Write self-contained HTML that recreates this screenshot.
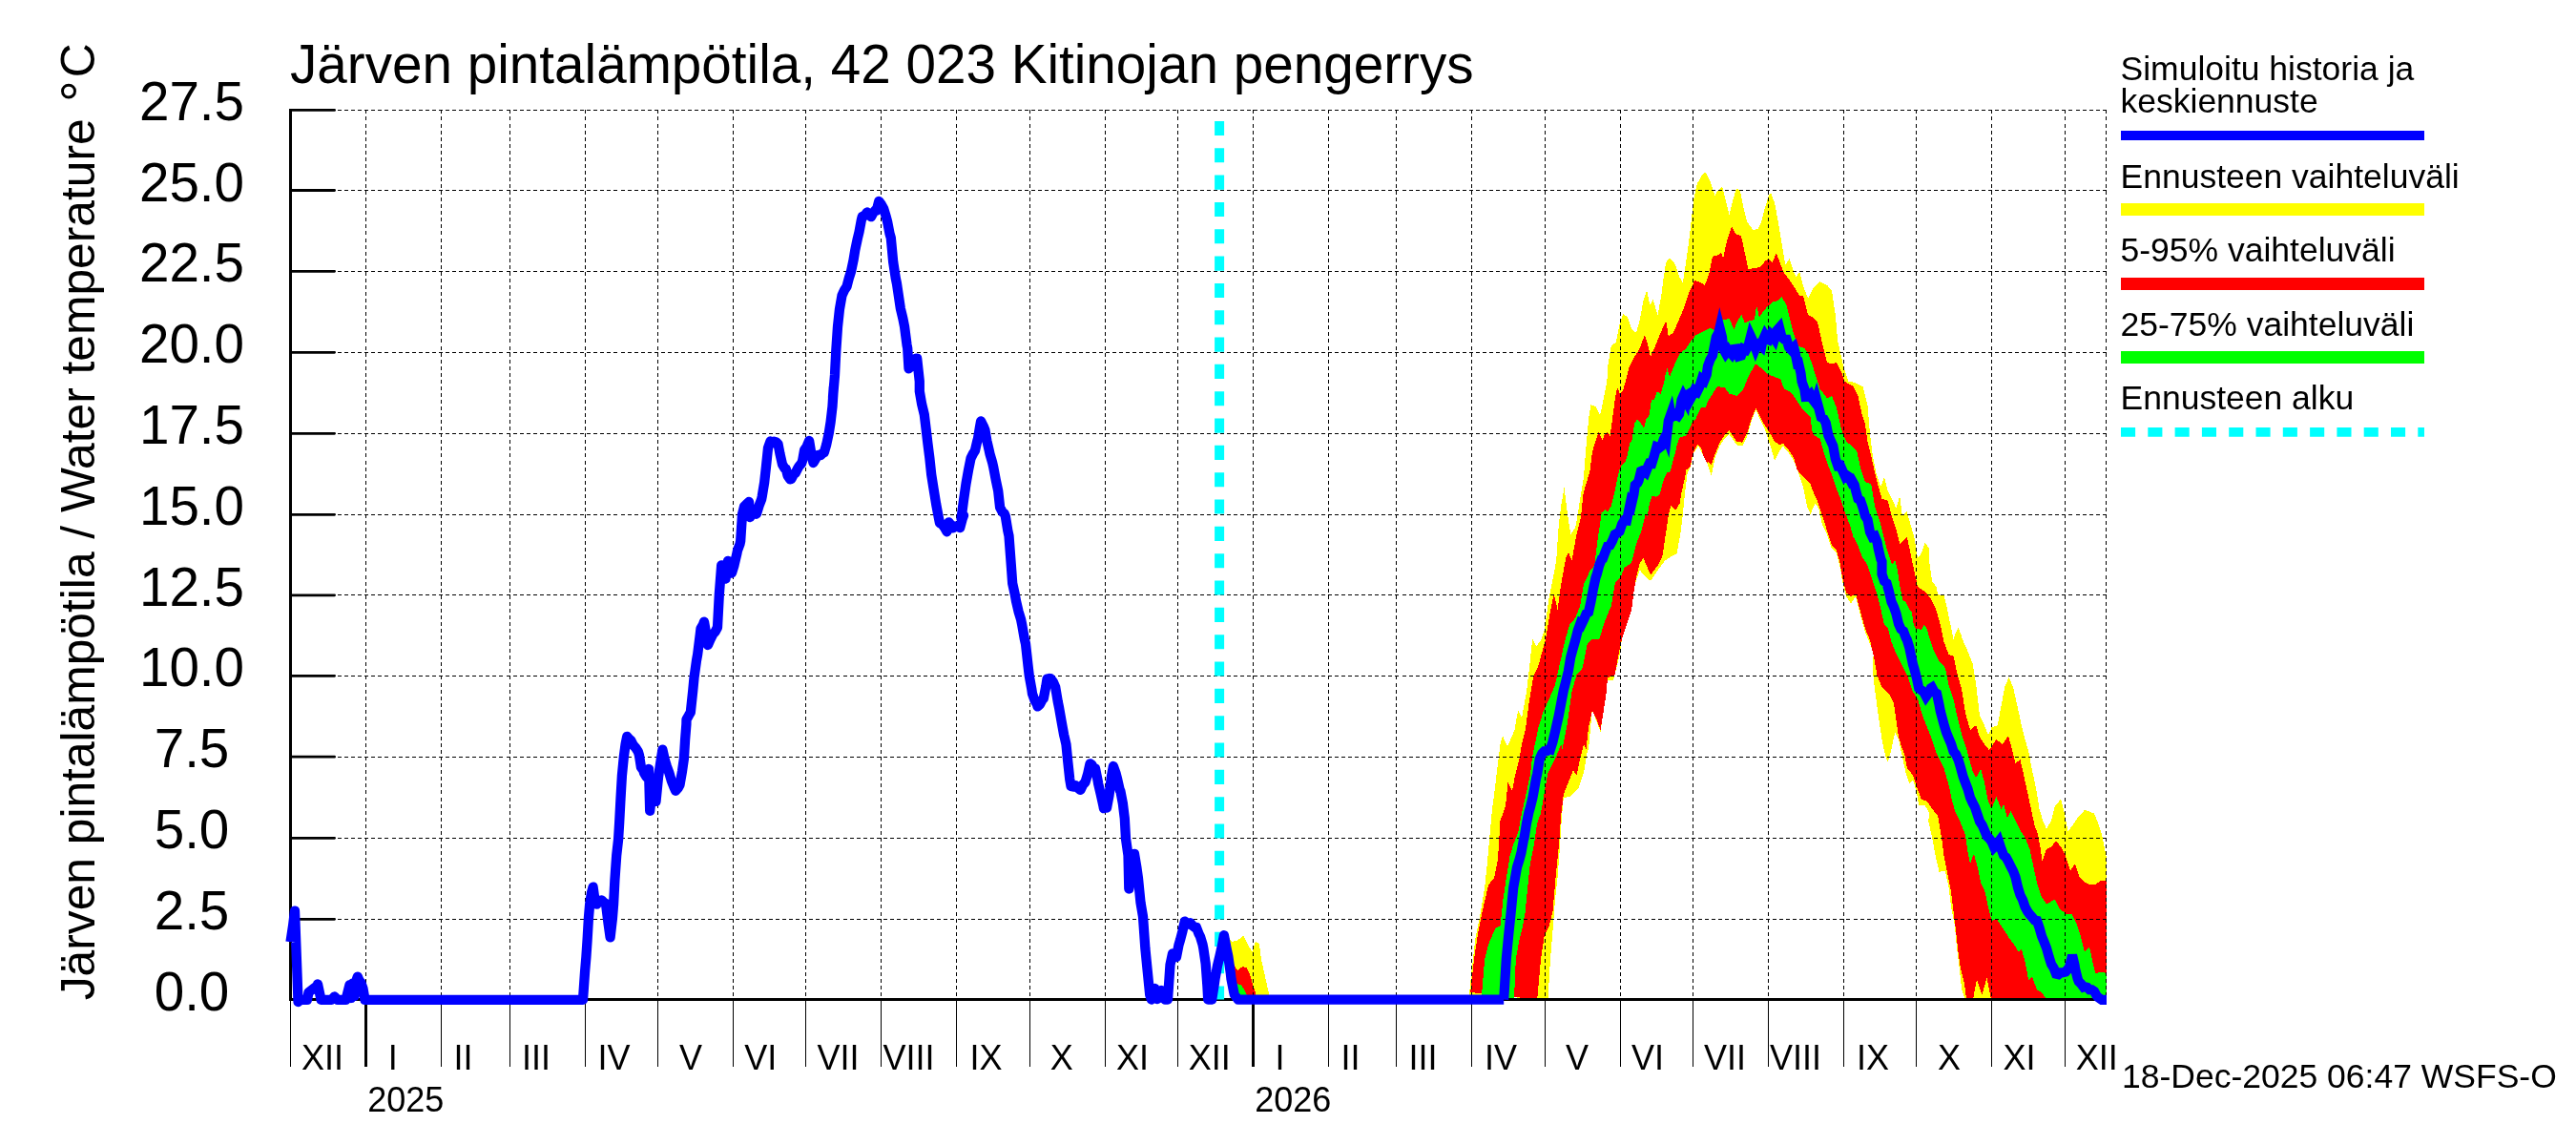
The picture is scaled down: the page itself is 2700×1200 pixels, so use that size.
<!DOCTYPE html>
<html><head><meta charset="utf-8"><title>Järven pintalämpötila</title>
<style>
html,body{margin:0;padding:0;background:#fff;}
body{width:2700px;height:1200px;overflow:hidden;}
svg{display:block;will-change:transform;}
text{font-family:"Liberation Sans",sans-serif;fill:#000;}
.s{font-size:35.5px;}
.m{font-size:36px;}
.b{font-size:56.6px;}
</style></head><body>
<svg width="2700" height="1200" viewBox="0 0 2700 1200">
<rect width="2700" height="1200" fill="#fff"/>
<g shape-rendering="crispEdges">
<path fill="#ffff00" d="M1284.0,985.0 L1285.7,980.0 L1291.4,987.0 L1297.0,985.6 L1303.5,980.7 L1310.0,993.7 L1312.5,997.0 L1315.7,987.0 L1319.8,988.9 L1322.2,1006.7 L1326.3,1024.6 L1330.3,1042.5 L1331.5,1047.6 L1298.0,1047.6Z"/>
<path fill="#ff0000" d="M1290.0,1010.0 L1293.0,1010.0 L1297.0,1017.3 L1301.9,1013.2 L1306.8,1014.0 L1310.0,1021.3 L1312.5,1029.5 L1316.5,1042.5 L1318.0,1047.6 L1298.0,1047.6Z"/>
<path fill="#00ff00" d="M1294.5,1031.0 L1297.0,1031.0 L1301.0,1032.7 L1304.3,1037.6 L1306.8,1042.5 L1308.0,1047.6 L1299.0,1047.6Z"/>
<path fill="#ffff00" d="M1540.0,1042.5 L1542.5,1017.5 L1546.2,985.0 L1551.2,960.0 L1556.2,930.0 L1558.8,905.0 L1561.2,878.2 L1563.8,850.0 L1567.0,825.0 L1570.0,800.0 L1572.5,780.0 L1575.0,771.2 L1580.0,782.5 L1587.5,765.0 L1591.2,743.8 L1595.0,752.5 L1600.0,725.0 L1603.8,692.5 L1606.2,668.8 L1610.0,677.5 L1615.0,671.2 L1618.8,660.0 L1623.8,625.0 L1627.5,607.5 L1631.2,587.5 L1633.8,550.0 L1636.2,530.0 L1639.5,511.2 L1642.5,535.0 L1646.2,560.0 L1651.2,552.5 L1653.1,542.5 L1656.9,518.8 L1660.0,500.0 L1661.9,475.0 L1663.8,453.8 L1665.6,435.0 L1667.5,424.4 L1672.5,426.2 L1676.9,435.0 L1679.4,425.0 L1681.9,412.5 L1684.4,400.0 L1685.0,385.0 L1688.8,362.5 L1693.8,358.8 L1697.5,340.0 L1701.2,328.8 L1706.2,332.5 L1710.0,345.0 L1715.0,348.8 L1718.8,335.0 L1722.5,315.0 L1726.2,303.8 L1729.2,320.0 L1732.5,313.8 L1737.5,330.0 L1741.2,310.0 L1743.8,290.0 L1746.2,275.0 L1750.0,270.0 L1756.2,277.5 L1760.0,290.0 L1763.8,296.2 L1767.5,272.5 L1771.2,245.0 L1775.0,210.0 L1778.8,192.5 L1783.8,183.8 L1787.5,180.5 L1792.5,190.0 L1797.5,205.0 L1800.0,200.0 L1805.0,195.0 L1808.8,210.0 L1812.5,225.0 L1816.2,210.0 L1820.0,197.5 L1823.8,200.0 L1827.5,217.5 L1831.2,232.5 L1837.5,241.2 L1842.5,240.0 L1846.2,232.5 L1850.0,217.5 L1853.8,205.0 L1856.2,202.5 L1860.0,212.5 L1863.8,232.5 L1867.5,255.0 L1871.2,277.5 L1875.5,271.2 L1880.0,285.0 L1882.5,290.0 L1886.2,285.0 L1890.0,300.0 L1895.0,312.5 L1901.2,301.2 L1907.5,295.0 L1915.0,298.8 L1920.0,305.0 L1923.8,330.0 L1926.2,357.5 L1932.5,385.0 L1937.5,400.0 L1941.2,400.0 L1952.5,405.0 L1957.5,425.0 L1960.0,455.0 L1962.5,475.0 L1966.2,495.0 L1971.2,510.0 L1975.0,500.0 L1978.8,515.0 L1983.8,525.0 L1987.5,532.5 L1991.2,520.0 L1993.8,540.0 L1998.8,536.2 L2002.5,550.0 L2006.2,562.5 L2010.0,585.0 L2013.8,580.0 L2017.5,568.8 L2022.2,575.0 L2021.9,586.2 L2023.8,600.0 L2025.0,608.8 L2029.4,615.0 L2031.2,622.5 L2034.4,624.4 L2037.5,623.8 L2040.0,633.8 L2041.9,642.5 L2043.8,652.5 L2045.6,660.0 L2047.5,670.0 L2050.0,662.5 L2052.5,658.1 L2055.0,663.8 L2056.9,670.0 L2062.5,682.5 L2067.5,695.0 L2071.2,717.5 L2075.0,750.0 L2078.8,757.5 L2083.8,770.0 L2087.5,762.5 L2093.8,760.0 L2097.5,740.0 L2101.2,720.0 L2105.5,710.0 L2110.0,720.0 L2115.0,742.5 L2118.8,760.0 L2122.5,775.0 L2126.2,787.5 L2130.0,807.5 L2133.8,825.0 L2137.5,847.5 L2141.2,860.0 L2145.0,868.8 L2150.0,860.0 L2153.8,845.0 L2160.0,837.5 L2163.8,852.5 L2167.5,871.2 L2172.5,865.0 L2177.5,857.5 L2185.0,848.8 L2195.0,852.5 L2200.0,865.0 L2202.5,872.5 L2206.2,890.0 L2208.0,900.0 L2208.2,1047.6 L2060.0,1047.5 L2056.2,1037.5 L2053.8,1015.0 L2051.2,995.0 L2048.8,970.0 L2045.0,950.0 L2042.5,930.0 L2038.8,912.5 L2032.5,913.8 L2028.8,897.5 L2025.0,877.5 L2021.2,860.0 L2022.5,852.5 L2017.5,843.8 L2011.2,843.8 L2008.8,830.0 L2005.0,817.5 L2001.2,821.2 L1997.5,810.0 L1993.8,792.5 L1990.0,775.0 L1986.2,767.5 L1982.5,785.0 L1978.8,798.8 L1976.2,792.5 L1972.5,775.0 L1968.8,750.0 L1965.0,722.5 L1962.5,700.0 L1963.8,685.0 L1960.0,675.0 L1955.0,662.5 L1950.0,645.0 L1945.0,625.0 L1940.0,632.5 L1935.0,625.0 L1931.2,610.0 L1928.8,595.0 L1925.0,580.0 L1920.0,575.0 L1915.0,560.0 L1910.0,550.0 L1906.2,532.5 L1902.5,527.5 L1897.5,538.8 L1893.8,530.0 L1890.0,510.0 L1885.0,495.0 L1880.0,482.5 L1875.0,475.0 L1868.8,467.5 L1865.0,472.5 L1860.0,482.5 L1855.0,465.0 L1850.0,450.0 L1845.0,440.0 L1840.5,429.5 L1836.2,440.0 L1831.2,457.5 L1826.2,467.5 L1820.0,466.2 L1812.5,455.0 L1807.5,460.0 L1802.5,467.5 L1797.5,480.0 L1793.8,498.8 L1790.0,487.5 L1785.0,477.5 L1780.0,467.5 L1775.0,475.0 L1772.5,487.5 L1768.8,495.0 L1766.2,515.0 L1763.8,540.0 L1761.2,560.0 L1757.5,580.0 L1752.5,582.5 L1745.0,587.5 L1737.5,597.5 L1730.0,608.8 L1725.0,605.0 L1718.8,597.5 L1715.0,607.5 L1710.0,630.0 L1705.0,652.5 L1700.0,670.0 L1697.5,687.5 L1691.2,712.5 L1685.0,712.5 L1677.5,767.0 L1668.8,743.8 L1665.0,785.0 L1663.8,787.5 L1660.0,810.0 L1655.0,825.0 L1645.0,835.0 L1638.8,836.2 L1637.0,855.0 L1635.0,887.5 L1632.5,920.0 L1630.0,942.5 L1627.5,975.0 L1625.0,1005.0 L1622.5,1047.5Z"/>
<path fill="#ff0000" d="M1541.2,1040.0 L1545.0,1005.0 L1548.8,980.0 L1553.8,955.0 L1560.0,927.5 L1566.2,920.0 L1570.0,900.0 L1572.5,860.0 L1578.0,845.0 L1580.5,820.0 L1585.0,828.8 L1588.0,812.5 L1592.5,795.0 L1595.0,780.0 L1598.8,765.0 L1602.5,737.5 L1607.5,707.5 L1612.5,697.5 L1620.0,670.0 L1625.0,640.0 L1628.8,622.5 L1632.5,638.8 L1636.2,612.5 L1641.2,585.0 L1643.8,578.8 L1647.5,587.5 L1652.5,560.0 L1656.9,542.5 L1659.4,518.8 L1661.9,508.8 L1666.2,495.0 L1668.8,475.0 L1670.6,467.5 L1673.1,460.0 L1675.6,452.5 L1679.4,461.2 L1682.5,453.8 L1685.0,453.1 L1687.5,456.9 L1689.4,443.8 L1691.2,430.0 L1693.1,416.2 L1695.2,406.2 L1698.1,413.1 L1701.2,408.8 L1703.8,400.0 L1707.5,385.0 L1712.5,375.0 L1718.8,365.0 L1723.8,351.2 L1727.5,362.5 L1730.0,373.8 L1735.0,362.5 L1740.0,350.0 L1746.2,336.2 L1748.8,352.5 L1753.8,348.8 L1758.8,337.5 L1765.0,322.5 L1770.0,307.5 L1776.2,293.8 L1782.5,296.2 L1787.0,298.8 L1791.2,287.5 L1795.0,268.8 L1800.0,267.5 L1803.8,265.0 L1806.2,270.0 L1810.0,252.5 L1815.0,237.5 L1818.8,245.0 L1825.0,247.5 L1828.8,265.0 L1832.5,282.5 L1837.5,281.2 L1845.0,280.0 L1850.0,273.8 L1853.8,271.2 L1857.5,275.0 L1862.0,265.0 L1866.2,277.5 L1870.0,286.2 L1875.0,292.5 L1880.0,300.0 L1886.2,310.0 L1890.0,310.0 L1895.0,330.0 L1900.0,332.5 L1905.0,337.5 L1910.0,360.0 L1915.0,380.0 L1920.0,381.2 L1925.0,380.0 L1930.0,390.0 L1935.0,403.8 L1933.8,400.0 L1942.5,405.0 L1947.5,415.0 L1951.2,432.5 L1955.0,445.0 L1957.5,462.5 L1961.2,477.5 L1965.0,495.0 L1968.8,510.0 L1972.5,522.5 L1978.8,525.0 L1982.5,540.0 L1987.5,555.0 L1991.2,570.0 L1998.8,562.5 L2002.5,580.0 L2006.2,597.5 L2010.0,615.0 L2017.5,620.0 L2023.8,627.5 L2028.8,637.5 L2033.8,655.0 L2037.5,672.5 L2042.5,686.2 L2047.5,687.5 L2051.2,705.0 L2056.2,722.5 L2060.0,747.5 L2065.0,765.0 L2071.2,760.0 L2075.0,772.5 L2080.0,780.0 L2085.0,786.2 L2092.5,775.0 L2098.8,780.0 L2105.0,771.2 L2108.8,785.0 L2112.5,800.0 L2117.5,796.2 L2121.2,812.5 L2125.0,830.0 L2128.8,847.5 L2132.5,865.0 L2136.2,875.0 L2138.8,890.0 L2140.5,902.5 L2145.0,890.0 L2150.0,887.5 L2155.0,881.2 L2160.0,887.5 L2165.0,897.5 L2170.0,912.5 L2175.0,905.0 L2180.0,920.0 L2187.5,926.2 L2195.0,927.5 L2202.5,922.5 L2208.0,922.5 L2208.2,1047.6 L2087.0,1047.5 L2082.5,1025.0 L2077.5,1042.5 L2072.0,1026.2 L2068.0,1047.5 L2061.2,1047.5 L2058.8,1030.0 L2055.0,1015.0 L2052.5,997.5 L2050.0,975.0 L2047.5,955.0 L2045.0,935.0 L2041.2,915.0 L2037.5,897.5 L2035.0,877.5 L2031.2,855.0 L2025.0,847.5 L2020.0,840.0 L2013.8,837.5 L2010.0,827.5 L2005.0,812.5 L1998.8,805.0 L1996.2,790.0 L1993.8,785.0 L1990.0,772.5 L1987.5,755.0 L1985.0,737.5 L1980.0,727.5 L1972.5,720.0 L1967.5,707.5 L1963.8,687.5 L1960.0,671.2 L1955.0,658.8 L1950.0,641.2 L1945.0,622.5 L1940.0,625.0 L1935.0,621.2 L1931.2,606.2 L1928.8,591.2 L1925.0,577.0 L1920.0,571.2 L1915.0,556.2 L1910.0,540.0 L1905.0,525.0 L1902.5,520.0 L1897.5,507.5 L1890.0,500.0 L1883.8,492.5 L1880.0,479.5 L1875.0,472.0 L1868.8,464.5 L1865.0,466.2 L1860.0,462.5 L1855.0,453.8 L1850.0,446.2 L1845.0,437.5 L1840.5,428.0 L1836.2,437.5 L1831.2,453.8 L1826.2,463.8 L1820.0,462.5 L1812.5,451.2 L1807.5,456.2 L1802.5,463.8 L1797.5,476.2 L1793.8,487.5 L1790.0,483.8 L1789.4,485.0 L1786.2,480.0 L1783.1,470.0 L1779.4,465.6 L1775.6,472.5 L1773.8,477.5 L1771.9,488.8 L1767.5,492.5 L1766.2,500.0 L1764.4,507.5 L1762.5,516.2 L1760.6,527.5 L1756.2,535.0 L1751.2,530.0 L1748.8,540.0 L1745.5,562.5 L1742.5,582.5 L1737.5,592.5 L1730.0,602.5 L1722.5,585.0 L1718.8,590.0 L1715.0,605.0 L1712.5,620.0 L1710.0,640.0 L1705.0,655.0 L1700.0,670.0 L1696.2,687.5 L1692.5,707.5 L1685.0,710.0 L1683.8,725.0 L1680.0,750.0 L1677.5,765.0 L1673.8,755.0 L1668.8,745.0 L1665.0,762.5 L1662.5,785.0 L1660.0,780.0 L1656.2,795.0 L1652.5,812.5 L1648.8,807.5 L1643.8,820.0 L1638.8,832.5 L1636.2,855.0 L1633.8,887.5 L1630.5,920.0 L1627.5,955.0 L1623.8,970.0 L1618.8,980.0 L1615.0,1005.0 L1611.2,1047.5Z"/>
<path fill="#00ff00" d="M1553.0,1042.5 L1556.2,1005.0 L1560.0,990.0 L1567.5,972.5 L1572.5,970.0 L1575.5,942.5 L1578.8,920.0 L1582.5,897.5 L1586.2,885.0 L1591.2,872.5 L1595.0,852.5 L1600.0,830.0 L1603.8,812.5 L1606.2,792.5 L1608.8,780.0 L1612.5,762.5 L1617.5,746.2 L1623.8,732.5 L1630.0,717.5 L1636.2,690.0 L1640.0,672.5 L1645.0,655.0 L1651.2,647.5 L1656.2,635.0 L1660.0,612.5 L1666.2,598.8 L1671.2,592.5 L1675.0,562.5 L1678.8,537.5 L1678.1,537.5 L1682.5,534.4 L1685.6,536.2 L1688.8,530.0 L1691.9,517.5 L1695.0,502.5 L1698.1,490.0 L1703.8,483.8 L1706.2,475.0 L1708.1,465.0 L1710.6,461.2 L1711.9,452.5 L1713.1,443.8 L1716.2,439.4 L1720.0,443.8 L1723.1,448.8 L1725.6,438.8 L1728.8,435.0 L1730.0,425.0 L1731.2,418.8 L1733.8,419.4 L1736.9,410.0 L1740.6,413.1 L1742.5,406.2 L1744.4,400.0 L1745.0,395.0 L1747.5,386.2 L1750.0,395.0 L1755.0,382.5 L1761.2,370.0 L1767.5,365.0 L1772.5,357.5 L1777.5,351.2 L1785.0,347.5 L1792.5,343.8 L1797.5,346.2 L1802.5,336.2 L1807.5,335.0 L1812.5,333.8 L1817.5,345.0 L1822.5,333.8 L1825.5,330.0 L1828.8,338.8 L1833.8,336.2 L1838.8,335.0 L1841.2,320.0 L1843.8,332.5 L1847.5,327.5 L1852.5,321.2 L1858.8,316.2 L1863.8,315.0 L1867.5,311.2 L1872.5,320.0 L1876.2,335.0 L1880.0,350.0 L1885.0,362.5 L1891.2,365.0 L1895.0,370.0 L1898.8,380.0 L1907.5,407.5 L1915.0,417.5 L1920.0,415.0 L1925.0,427.5 L1930.0,450.0 L1935.0,462.5 L1941.2,467.5 L1946.2,472.5 L1950.0,490.0 L1955.0,505.0 L1961.2,507.5 L1965.0,530.0 L1970.0,545.0 L1973.8,560.0 L1977.5,575.0 L1982.5,590.0 L1983.8,591.2 L1986.2,586.9 L1988.8,597.5 L1990.6,610.0 L1992.5,620.0 L1994.4,628.8 L1997.5,631.2 L2000.6,637.5 L2003.8,641.2 L2005.6,653.8 L2008.1,658.8 L2011.2,658.8 L2013.8,660.6 L2016.9,654.4 L2020.0,660.0 L2021.9,667.5 L2026.2,680.0 L2032.5,692.5 L2038.8,700.0 L2042.5,717.5 L2047.5,732.5 L2051.2,750.0 L2056.2,770.0 L2061.2,785.0 L2062.5,790.0 L2067.5,807.5 L2071.2,815.0 L2076.2,806.2 L2080.0,820.0 L2083.8,840.0 L2087.5,847.5 L2092.5,835.0 L2097.5,847.5 L2100.0,842.5 L2103.8,857.5 L2107.5,850.0 L2112.5,860.0 L2117.5,870.0 L2122.5,877.5 L2127.5,890.0 L2131.2,907.5 L2135.0,925.0 L2140.0,940.0 L2145.0,947.5 L2153.8,942.5 L2158.8,952.5 L2165.0,957.5 L2171.2,957.5 L2176.2,967.5 L2181.2,982.5 L2185.0,997.5 L2190.0,992.5 L2193.8,1010.0 L2196.2,1020.0 L2202.5,1018.8 L2208.0,1020.0 L2208.2,1047.6 L2145.0,1047.5 L2140.0,1040.0 L2135.0,1037.5 L2130.0,1023.8 L2126.2,1027.5 L2122.5,1007.5 L2118.8,995.0 L2115.5,997.5 L2111.2,990.0 L2106.2,983.8 L2102.5,977.5 L2097.5,970.0 L2092.5,962.5 L2087.5,965.0 L2083.8,950.0 L2080.0,932.5 L2076.2,925.0 L2072.5,907.5 L2068.8,895.0 L2065.0,905.0 L2062.5,892.5 L2060.0,875.0 L2055.0,862.5 L2050.0,852.5 L2046.2,840.0 L2042.5,822.5 L2037.5,805.0 L2030.0,790.0 L2025.0,775.0 L2020.0,762.5 L2015.0,750.0 L2010.0,732.5 L2005.0,725.0 L2000.0,710.0 L1993.8,697.5 L1987.5,685.0 L1982.5,672.5 L1978.8,658.8 L1975.0,655.0 L1970.0,632.5 L1965.0,615.0 L1960.0,600.0 L1956.2,590.0 L1952.5,585.0 L1947.5,572.5 L1942.5,562.5 L1938.8,550.0 L1935.0,540.0 L1930.0,525.0 L1925.0,512.5 L1920.0,497.5 L1915.0,485.0 L1911.2,472.5 L1907.5,460.0 L1900.0,455.0 L1897.5,437.5 L1890.0,430.0 L1885.0,422.5 L1880.0,415.0 L1875.0,410.0 L1870.0,407.5 L1866.2,397.5 L1860.0,395.0 L1852.5,392.5 L1845.0,385.0 L1840.0,381.2 L1832.5,395.0 L1827.5,407.5 L1820.0,415.0 L1812.5,412.5 L1807.5,406.2 L1800.0,405.0 L1791.1,418.8 L1787.5,426.9 L1783.1,427.5 L1780.0,432.5 L1777.5,438.8 L1773.8,442.5 L1770.6,450.0 L1767.5,456.2 L1763.8,457.5 L1760.0,458.8 L1757.5,467.5 L1755.0,477.5 L1753.1,485.0 L1750.6,494.4 L1747.5,495.0 L1745.0,500.0 L1741.9,508.8 L1740.0,517.5 L1736.2,520.6 L1731.2,520.0 L1728.8,528.8 L1726.2,542.5 L1725.0,537.5 L1720.0,557.5 L1715.0,570.0 L1710.0,590.0 L1702.5,595.0 L1698.8,605.0 L1693.0,610.0 L1688.8,635.0 L1682.5,650.0 L1676.2,670.0 L1668.8,670.0 L1663.8,675.0 L1658.8,700.0 L1652.5,707.5 L1647.5,725.0 L1642.5,760.0 L1637.5,785.0 L1636.2,780.0 L1631.2,792.5 L1627.5,800.0 L1622.5,810.0 L1618.8,830.0 L1615.0,852.5 L1611.2,862.5 L1607.5,887.5 L1603.8,905.0 L1601.2,930.0 L1598.8,955.0 L1596.2,970.0 L1592.5,985.0 L1588.8,1005.0 L1587.0,1047.5Z"/>
</g>
<path d="M304.6,115.4H2207.8M304.6,199.5H2207.8M304.6,284.3H2207.8M304.6,369.3H2207.8M304.6,454.3H2207.8M304.6,539.3H2207.8M304.6,623.8H2207.8M304.6,708.3H2207.8M304.6,793.2H2207.8M304.6,878.3H2207.8M304.6,963.3H2207.8M383.5,115.4V1047.6M462.2,115.4V1047.6M534.5,115.4V1047.6M613.2,115.4V1047.6M689.2,115.4V1047.6M768.2,115.4V1047.6M844.5,115.4V1047.6M923.2,115.4V1047.6M1002.5,115.4V1047.6M1079.5,115.4V1047.6M1158.5,115.4V1047.6M1234.5,115.4V1047.6M1313.2,115.4V1047.6M1392.2,115.4V1047.6M1463.2,115.4V1047.6M1542.5,115.4V1047.6M1619.5,115.4V1047.6M1698.2,115.4V1047.6M1774.5,115.4V1047.6M1853.5,115.4V1047.6M1932.5,115.4V1047.6M2008.5,115.4V1047.6M2087.5,115.4V1047.6M2164.5,115.4V1047.6M2207.8,115.4V1047.6" fill="none" stroke="#000" stroke-width="1" stroke-dasharray="4 3.06" shape-rendering="crispEdges"/>
<path d="M304.6,114.0V1049.0M303.2,1047.6H2208.2" fill="none" stroke="#000" stroke-width="2.8" shape-rendering="crispEdges"/>
<path d="M304.6,115.4H350.6M304.6,199.5H350.6M304.6,284.3H350.6M304.6,369.3H350.6M304.6,454.3H350.6M304.6,539.3H350.6M304.6,623.8H350.6M304.6,708.3H350.6M304.6,793.2H350.6M304.6,878.3H350.6M304.6,963.3H350.6" fill="none" stroke="#000" stroke-width="2.8" stroke-linecap="round"/>
<path d="M304.2,1047.6V1117.5M462.2,1047.6V1117.5M534.5,1047.6V1117.5M613.2,1047.6V1117.5M689.2,1047.6V1117.5M768.2,1047.6V1117.5M844.5,1047.6V1117.5M923.2,1047.6V1117.5M1002.5,1047.6V1117.5M1079.5,1047.6V1117.5M1158.5,1047.6V1117.5M1234.5,1047.6V1117.5M1392.2,1047.6V1117.5M1463.2,1047.6V1117.5M1542.5,1047.6V1117.5M1619.5,1047.6V1117.5M1698.2,1047.6V1117.5M1774.5,1047.6V1117.5M1853.5,1047.6V1117.5M1932.5,1047.6V1117.5M2008.5,1047.6V1117.5M2087.5,1047.6V1117.5M2164.5,1047.6V1117.5" fill="none" stroke="#000" stroke-width="1" shape-rendering="crispEdges"/>
<path d="M383.5,1047.6V1117.5M1313.25,1047.6V1117.5" fill="none" stroke="#000" stroke-width="3" shape-rendering="crispEdges"/>
<path d="M1278.1,126.9V1047.6" fill="none" stroke="#00ffff" stroke-width="10" stroke-dasharray="15.1 13.23"/>
<path d="M1576.2,1047.6 L1578.8,1005.0 L1581.2,980.0 L1583.8,955.0 L1586.2,930.4 L1588.8,915.8 L1590.0,908.9 L1592.5,901.1 L1594.5,893.6 L1597.0,879.9 L1597.5,878.5 L1600.0,863.0 L1602.5,851.0 L1603.8,846.7 L1606.3,836.6 L1607.5,830.2 L1610.0,816.1 L1611.2,811.1 L1613.8,795.2 L1616.3,789.7 L1618.8,787.2 L1621.3,787.0 L1623.8,784.9 L1625.0,785.3 L1627.5,777.3 L1630.1,766.4 L1631.2,761.4 L1633.8,750.0 L1636.2,737.2 L1638.8,723.7 L1641.2,714.2 L1643.8,703.6 L1646.2,689.0 L1648.8,679.4 L1651.2,671.0 L1653.8,660.7 L1656.3,653.8 L1657.5,654.7 L1660.0,649.4 L1662.6,643.2 L1665.0,641.6 L1667.5,630.4 L1670.0,616.9 L1672.5,605.4 L1673.8,601.7 L1676.3,592.3 L1678.8,585.8 L1680.0,585.3 L1682.5,578.5 L1685.1,572.1 L1687.5,571.4 L1690.0,566.8 L1692.6,560.1 L1695.0,558.9 L1697.5,557.0 L1700.1,549.1 L1702.5,545.4 L1705.0,545.6 L1706.2,539.8 L1708.8,527.1 L1710.0,528.7 L1712.5,517.9 L1713.8,508.3 L1716.3,506.2 L1717.5,503.9 L1720.0,493.8 L1722.5,492.7 L1725.0,494.9 L1727.6,488.1 L1728.8,485.7 L1731.3,485.9 L1733.8,477.7 L1736.3,468.5 L1738.8,469.6 L1741.3,467.7 L1743.8,460.3 L1746.3,455.9 L1746.9,457.6 L1748.8,441.2 L1751.3,434.1 L1751.9,437.4 L1754.4,435.5 L1756.2,434.1 L1758.8,435.8 L1760.0,434.0 L1762.5,419.3 L1764.4,414.9 L1766.9,419.6 L1767.5,414.6 L1770.0,413.0 L1771.9,417.7 L1774.4,413.0 L1776.2,408.8 L1778.8,410.5 L1781.2,405.6 L1783.8,397.1 L1786.2,398.9 L1788.8,392.4 L1790.0,383.7 L1792.5,376.8 L1795.0,372.4 L1797.5,359.8 L1798.8,353.2 L1801.3,348.8 L1802.5,343.6 L1805.0,353.5 L1806.2,365.4 L1808.8,370.2 L1811.3,366.7 L1812.5,368.4 L1815.0,371.1 L1817.6,366.0 L1820.0,365.7 L1822.5,373.4 L1825.0,372.6 L1827.5,365.7 L1830.0,366.8 L1832.5,362.2 L1835.0,352.4 L1837.5,357.8 L1840.1,365.0 L1841.2,362.3 L1843.8,360.3 L1846.3,362.7 L1847.5,357.1 L1850.0,351.4 L1852.6,355.6 L1853.8,356.1 L1856.3,350.5 L1858.8,353.0 L1860.0,354.9 L1862.5,346.3 L1865.0,343.4 L1867.5,353.3 L1870.0,355.5 L1872.5,355.6 L1875.0,363.9 L1877.5,366.6 L1880.1,364.1 L1881.2,367.9 L1883.8,380.7 L1885.0,380.4 L1887.5,391.2 L1888.8,401.5 L1888.8,400.9 L1891.3,407.6 L1892.5,415.9 L1895.0,415.7 L1897.5,413.4 L1900.0,418.7 L1902.6,422.1 L1903.8,418.4 L1906.3,427.6 L1908.8,437.4 L1911.3,438.7 L1913.8,443.5 L1916.3,456.1 L1918.8,461.8 L1921.3,467.2 L1923.8,480.9 L1926.3,488.1 L1928.8,487.8 L1931.3,493.5 L1933.8,499.0 L1935.0,497.8 L1937.5,499.5 L1940.1,504.6 L1941.2,503.7 L1943.8,508.4 L1945.0,513.8 L1947.5,522.8 L1950.0,524.5 L1952.5,531.8 L1955.0,540.8 L1957.5,544.6 L1960.0,557.7 L1962.5,562.7 L1965.0,561.9 L1967.5,568.2 L1968.8,575.3 L1971.3,585.6 L1972.5,588.5 L1972.5,601.6 L1975.0,609.1 L1977.5,611.2 L1980.0,620.0 L1982.5,630.8 L1985.0,636.1 L1987.5,643.3 L1990.0,653.9 L1992.5,659.3 L1995.0,661.4 L1997.6,668.3 L1998.8,670.5 L2001.3,678.8 L2002.5,684.5 L2005.0,696.4 L2006.2,700.1 L2008.8,710.0 L2011.2,721.1 L2013.8,723.2 L2016.3,725.2 L2018.8,730.0 L2021.3,726.5 L2023.8,721.3 L2025.0,720.5 L2027.5,725.2 L2030.0,726.9 L2032.5,738.4 L2033.8,745.4 L2036.3,754.8 L2037.5,759.2 L2040.0,767.5 L2042.5,773.6 L2045.0,779.4 L2047.5,787.4 L2050.0,790.4 L2052.6,796.4 L2055.0,804.4 L2057.6,814.0 L2060.0,820.4 L2062.6,827.2 L2065.0,835.8 L2067.6,841.4 L2070.0,845.9 L2072.6,853.7 L2075.0,860.9 L2077.6,864.8 L2080.1,870.5 L2082.5,876.3 L2085.1,878.8 L2087.6,882.2 L2090.0,887.8 L2092.6,885.0 L2095.0,881.8 L2097.6,889.8 L2100.0,896.3 L2102.6,898.5 L2105.1,903.0 L2107.5,907.9 L2110.1,913.0 L2112.5,919.3 L2115.1,930.3 L2117.5,938.2 L2120.1,943.3 L2122.5,950.4 L2125.1,955.2 L2127.5,958.5 L2130.1,961.4 L2132.6,964.5 L2135.0,965.0 L2137.6,972.6 L2140.0,981.1 L2142.6,987.3 L2145.0,993.5 L2147.6,1002.8 L2150.0,1010.4 L2152.6,1014.5 L2155.0,1020.7 L2157.6,1021.3 L2160.1,1019.3 L2162.5,1019.1 L2165.1,1018.4 L2167.6,1015.4 L2168.8,1014.3 L2171.3,1004.5 L2172.0,1001.0 L2174.6,1012.0 L2175.0,1015.0 L2177.6,1025.5 L2178.8,1028.7 L2181.3,1031.1 L2183.8,1034.4 L2185.0,1034.0 L2187.6,1034.7 L2190.1,1037.2 L2192.5,1037.3 L2195.1,1039.0 L2197.6,1043.6 L2198.8,1045.0 L2201.3,1046.7 L2203.0,1047.8 L2205.6,1047.8 L2208.0,1047.8" fill="none" stroke="#0000ff" stroke-width="10.2" stroke-linejoin="miter" stroke-miterlimit="4.5"/>
<path d="M304.5,987.2 L307.1,970.1 L309.0,954.6 L311.6,1024.2 L312.5,1050.0 L314.5,1047.8 L317.1,1047.8 L319.6,1047.8 L322.0,1047.8 L323.5,1040.0 L326.1,1038.0 L328.6,1036.1 L330.0,1035.0 L332.6,1033.0 L333.0,1031.4 L335.6,1043.5 L336.5,1047.8 L339.1,1047.8 L341.6,1047.8 L344.1,1047.8 L346.7,1047.8 L347.5,1047.8 L350.1,1045.0 L350.5,1044.5 L353.1,1047.1 L353.8,1047.8 L356.3,1047.8 L358.9,1047.8 L361.4,1047.8 L362.5,1047.8 L365.1,1037.4 L366.5,1032.1 L368.0,1046.0 L369.5,1030.7 L371.5,1044.0 L372.8,1029.4 L374.8,1023.6 L377.3,1029.5 L378.0,1029.1 L380.5,1036.0 L382.5,1047.8 L385.1,1047.8 L387.6,1047.8 L390.1,1047.8 L392.7,1047.8 L395.2,1047.8 L397.8,1047.8 L400.4,1047.8 L402.9,1047.8 L405.4,1047.8 L408.0,1047.8 L410.6,1047.8 L413.1,1047.8 L415.6,1047.8 L418.2,1047.8 L420.8,1047.8 L423.3,1047.8 L425.9,1047.8 L428.4,1047.8 L430.9,1047.8 L433.5,1047.8 L436.1,1047.8 L438.6,1047.8 L441.1,1047.8 L443.7,1047.8 L446.2,1047.8 L448.8,1047.8 L451.4,1047.8 L453.9,1047.8 L456.4,1047.8 L459.0,1047.8 L461.6,1047.8 L464.1,1047.8 L466.6,1047.8 L469.2,1047.8 L471.8,1047.8 L474.3,1047.8 L476.9,1047.8 L479.4,1047.8 L481.9,1047.8 L484.5,1047.8 L487.1,1047.8 L489.6,1047.8 L492.1,1047.8 L494.7,1047.8 L497.2,1047.8 L499.8,1047.8 L502.4,1047.8 L504.9,1047.8 L507.4,1047.8 L510.0,1047.8 L512.5,1047.8 L515.1,1047.8 L517.6,1047.8 L520.2,1047.8 L522.8,1047.8 L525.3,1047.8 L527.9,1047.8 L530.4,1047.8 L533.0,1047.8 L535.5,1047.8 L538.0,1047.8 L540.6,1047.8 L543.1,1047.8 L545.7,1047.8 L548.2,1047.8 L550.8,1047.8 L553.4,1047.8 L555.9,1047.8 L558.5,1047.8 L561.0,1047.8 L563.5,1047.8 L566.1,1047.8 L568.6,1047.8 L571.2,1047.8 L573.8,1047.8 L576.3,1047.8 L578.9,1047.8 L581.4,1047.8 L584.0,1047.8 L586.5,1047.8 L589.0,1047.8 L591.6,1047.8 L594.1,1047.8 L596.7,1047.8 L599.2,1047.8 L601.8,1047.8 L611.0,1047.8 L613.0,1019.3 L614.4,1002.9 L615.6,984.9 L616.9,962.5 L618.1,948.1 L620.0,935.6 L621.6,929.6 L623.8,945.8 L625.6,947.6 L628.1,944.0 L630.6,943.4 L633.1,945.9 L635.0,947.0 L637.5,967.3 L639.6,982.3 L641.9,962.7 L643.1,947.7 L644.4,922.3 L646.2,896.6 L648.1,879.7 L649.2,861.6 L650.5,836.9 L651.9,813.0 L653.8,793.5 L655.6,780.0 L657.2,771.9 L659.8,774.9 L661.2,775.8 L663.8,781.0 L666.2,783.7 L668.8,787.6 L670.0,791.6 L671.9,803.9 L674.4,807.4 L675.0,809.9 L677.5,814.2 L678.1,814.0 L680.0,805.9 L681.2,849.8 L683.8,826.2 L685.0,817.3 L687.5,839.9 L690.0,814.6 L690.6,810.5 L693.1,794.1 L694.4,785.7 L696.9,796.8 L698.8,802.9 L701.3,809.8 L703.8,818.4 L706.3,824.7 L708.1,828.8 L710.6,826.1 L712.5,822.5 L715.0,808.3 L716.9,795.0 L718.1,775.2 L719.4,759.0 L719.5,754.1 L722.0,749.7 L723.8,746.7 L726.3,723.2 L727.5,710.4 L730.0,692.4 L731.2,685.6 L733.8,664.9 L734.5,658.9 L737.0,654.5 L738.0,651.6 L740.5,666.1 L742.0,676.0 L744.5,670.2 L747.1,664.9 L749.6,662.1 L752.0,657.5 L753.8,623.4 L756.2,592.5 L758.8,601.1 L760.5,606.5 L763.0,587.9 L765.5,595.8 L767.0,600.6 L769.5,592.4 L772.1,581.4 L773.0,576.9 L775.5,570.3 L776.2,566.9 L778.0,539.0 L780.0,530.9 L782.5,528.3 L785.0,526.0 L786.2,542.2 L788.8,536.6 L790.0,533.9 L792.5,538.7 L793.0,538.6 L795.5,530.2 L798.1,523.4 L798.8,519.9 L801.2,505.3 L803.1,487.9 L805.0,469.5 L807.5,462.5 L810.0,464.0 L811.2,462.7 L813.8,463.4 L815.6,465.6 L817.5,475.6 L820.0,486.6 L822.5,491.0 L823.8,491.4 L825.6,498.5 L828.2,502.3 L829.4,502.0 L831.9,497.1 L833.8,495.6 L836.3,490.6 L837.5,488.6 L840.0,485.8 L841.2,482.3 L843.1,471.6 L845.7,467.8 L848.1,461.9 L850.6,477.0 L852.5,485.0 L855.0,480.6 L857.5,477.0 L860.0,477.1 L862.6,474.7 L863.8,474.2 L866.2,466.0 L868.8,453.8 L870.6,442.4 L872.5,426.0 L873.8,405.6 L873.0,416.5 L875.0,393.1 L876.2,369.0 L878.0,342.4 L880.0,323.8 L882.5,309.7 L885.0,304.1 L887.5,300.4 L890.0,290.8 L892.0,284.6 L894.5,272.8 L896.2,262.5 L898.8,250.1 L900.5,243.1 L903.0,229.8 L903.8,226.8 L906.3,226.0 L908.8,222.5 L911.3,224.7 L913.0,227.2 L915.5,222.7 L918.1,219.8 L918.8,220.6 L921.2,210.9 L923.8,214.4 L926.2,218.8 L928.8,227.3 L930.0,231.8 L932.5,244.8 L933.8,249.2 L936.2,274.7 L938.8,291.6 L940.0,297.4 L942.5,314.2 L943.8,323.1 L946.3,333.5 L948.0,341.9 L950.5,361.2 L951.2,364.9 L952.5,386.3 L955.0,383.9 L957.6,378.8 L960.1,375.6 L961.2,375.7 L963.8,399.6 L963.8,410.1 L966.2,423.8 L968.8,434.5 L970.6,449.4 L972.5,465.4 L974.4,480.4 L976.2,497.4 L978.8,513.8 L981.2,528.5 L983.8,542.3 L985.0,548.1 L987.5,549.4 L990.1,553.0 L992.5,557.3 L994.5,547.3 L997.0,550.6 L998.8,553.4 L1001.3,551.5 L1003.9,551.8 L1006.2,553.1 L1008.8,543.5 L1010.0,540.2 L1007.5,543.7 L1010.0,524.4 L1012.5,507.0 L1015.0,492.9 L1017.5,480.4 L1020.0,475.4 L1021.9,472.5 L1024.4,461.7 L1025.0,459.8 L1026.9,448.0 L1028.1,441.4 L1030.7,446.5 L1032.5,451.0 L1034.4,462.2 L1036.9,472.9 L1037.5,475.8 L1040.0,484.2 L1041.2,489.4 L1043.8,503.1 L1046.2,514.5 L1048.1,531.6 L1050.7,536.8 L1052.5,538.0 L1053.8,540.8 L1056.3,556.1 L1057.5,561.6 L1060.0,594.9 L1061.2,611.3 L1063.8,623.2 L1065.0,629.9 L1067.5,640.7 L1070.1,649.2 L1071.2,654.8 L1073.8,669.6 L1075.0,674.7 L1077.5,697.4 L1078.8,708.3 L1081.3,722.1 L1082.0,727.0 L1084.5,733.9 L1087.1,738.5 L1087.5,740.4 L1090.0,738.1 L1092.6,733.1 L1093.8,732.1 L1096.3,719.2 L1097.5,711.5 L1100.0,711.0 L1101.2,711.2 L1103.8,714.6 L1106.2,720.0 L1108.8,735.7 L1110.0,741.3 L1112.5,755.6 L1115.1,770.0 L1116.2,774.6 L1117.5,780.4 L1119.4,799.5 L1121.2,816.3 L1122.5,824.0 L1125.0,824.6 L1127.5,823.2 L1130.0,825.9 L1132.5,827.9 L1135.0,822.5 L1137.5,819.7 L1140.0,811.5 L1142.5,800.3 L1144.4,801.6 L1146.9,805.8 L1148.1,805.7 L1150.7,818.6 L1151.2,821.6 L1153.8,832.5 L1156.3,843.9 L1156.9,847.2 L1159.4,845.9 L1160.0,846.7 L1162.5,833.6 L1163.1,828.8 L1165.0,813.5 L1166.9,803.0 L1169.4,809.9 L1171.2,816.9 L1173.8,828.4 L1174.4,829.1 L1176.9,842.3 L1178.8,857.7 L1180.0,879.0 L1182.5,896.5 L1183.3,931.5 L1185.8,913.8 L1188.4,898.5 L1189.0,894.8 L1191.5,909.9 L1193.0,920.7 L1195.5,945.9 L1198.0,960.6 L1200.4,994.3 L1202.8,1018.5 L1205.2,1042.5 L1206.9,1047.5 L1209.5,1039.1 L1210.4,1036.0 L1213.0,1047.0 L1215.5,1041.3 L1217.0,1038.0 L1219.5,1044.1 L1221.0,1047.5 L1223.5,1047.5 L1224.0,1047.5 L1226.5,1011.0 L1229.0,999.4 L1231.5,1002.2 L1233.0,1003.1 L1235.5,990.2 L1237.0,985.3 L1239.5,975.7 L1241.8,965.6 L1244.3,967.8 L1246.9,968.7 L1247.5,967.2 L1250.0,970.1 L1252.6,972.1 L1254.0,972.0 L1256.5,978.6 L1258.0,981.5 L1260.5,989.7 L1261.3,993.7 L1263.7,1010.1 L1265.4,1033.0 L1266.2,1047.5 L1268.8,1047.5 L1270.2,1047.5 L1272.8,1031.2 L1273.5,1026.0 L1276.0,1012.2 L1278.4,1002.3 L1281.0,990.6 L1282.9,980.2 L1285.5,993.7 L1287.3,1002.2 L1289.8,1019.8 L1290.5,1026.1 L1293.0,1038.8 L1293.8,1042.5 L1296.3,1045.8 L1297.8,1047.6 L1300.3,1047.6 L1302.9,1047.6 L1305.5,1047.6 L1308.0,1047.6 L1310.5,1047.6 L1313.1,1047.6 L1315.6,1047.6 L1318.2,1047.6 L1320.8,1047.6 L1323.3,1047.6 L1325.8,1047.6 L1328.4,1047.6 L1331.0,1047.6 L1333.5,1047.6 L1336.0,1047.6 L1338.6,1047.6 L1341.1,1047.6 L1343.7,1047.6 L1346.2,1047.6 L1348.8,1047.6 L1351.3,1047.6 L1353.9,1047.6 L1356.5,1047.6 L1359.0,1047.6 L1361.5,1047.6 L1364.1,1047.6 L1366.6,1047.6 L1369.2,1047.6 L1371.8,1047.6 L1374.3,1047.6 L1376.8,1047.6 L1379.4,1047.6 L1382.0,1047.6 L1384.5,1047.6 L1387.0,1047.6 L1389.6,1047.6 L1392.1,1047.6 L1394.7,1047.6 L1397.2,1047.6 L1399.8,1047.6 L1402.3,1047.6 L1404.9,1047.6 L1407.5,1047.6 L1410.0,1047.6 L1412.5,1047.6 L1415.1,1047.6 L1417.6,1047.6 L1420.2,1047.6 L1422.8,1047.6 L1425.3,1047.6 L1427.8,1047.6 L1430.4,1047.6 L1432.9,1047.6 L1435.5,1047.6 L1438.0,1047.6 L1440.6,1047.6 L1443.1,1047.6 L1445.7,1047.6 L1448.2,1047.6 L1450.8,1047.6 L1453.3,1047.6 L1455.9,1047.6 L1458.4,1047.6 L1461.0,1047.6 L1463.5,1047.6 L1466.1,1047.6 L1468.6,1047.6 L1471.2,1047.6 L1473.8,1047.6 L1476.3,1047.6 L1478.8,1047.6 L1481.4,1047.6 L1483.9,1047.6 L1486.5,1047.6 L1489.0,1047.6 L1491.6,1047.6 L1494.1,1047.6 L1496.7,1047.6 L1499.2,1047.6 L1501.8,1047.6 L1504.3,1047.6 L1506.9,1047.6 L1509.4,1047.6 L1512.0,1047.6 L1514.5,1047.6 L1517.1,1047.6 L1519.6,1047.6 L1522.2,1047.6 L1524.8,1047.6 L1527.3,1047.6 L1529.8,1047.6 L1532.4,1047.6 L1534.9,1047.6 L1537.5,1047.6 L1540.0,1047.6 L1542.6,1047.6 L1545.1,1047.6 L1547.7,1047.6 L1550.2,1047.6 L1552.8,1047.6 L1555.3,1047.6 L1557.9,1047.6 L1560.4,1047.6 L1563.0,1047.6 L1565.5,1047.6 L1576.2,1047.6" fill="none" stroke="#0000ff" stroke-width="10.3" stroke-linejoin="round"/>
<text x="304" y="87" style="font-size:56.65px">Järven pintalämpötila, 42 023 Kitinojan pengerrys</text>
<g transform="translate(99,1048.3) rotate(-90)"><text x="0" y="0" style="font-size:49.73px">Järven pintalämpötila / Water temperature</text><text x="941.2" y="5" style="font-size:57px">°</text><text x="967.1" y="0" style="font-size:49.8px">C</text></g>
<text class="b" x="201" y="126.4" text-anchor="middle">27.5</text>
<text class="b" x="201" y="210.5" text-anchor="middle">25.0</text>
<text class="b" x="201" y="295.3" text-anchor="middle">22.5</text>
<text class="b" x="201" y="380.3" text-anchor="middle">20.0</text>
<text class="b" x="201" y="465.3" text-anchor="middle">17.5</text>
<text class="b" x="201" y="550.3" text-anchor="middle">15.0</text>
<text class="b" x="201" y="634.8" text-anchor="middle">12.5</text>
<text class="b" x="201" y="719.3" text-anchor="middle">10.0</text>
<text class="b" x="201" y="804.2" text-anchor="middle">7.5</text>
<text class="b" x="201" y="889.3" text-anchor="middle">5.0</text>
<text class="b" x="201" y="974.3" text-anchor="middle">2.5</text>
<text class="b" x="201" y="1058.6" text-anchor="middle">0.0</text>
<text class="m" x="338" y="1121" text-anchor="middle">XII</text>
<text class="m" x="411.75" y="1121" text-anchor="middle">I</text>
<text class="m" x="485.4" y="1121" text-anchor="middle">II</text>
<text class="m" x="562" y="1121" text-anchor="middle">III</text>
<text class="m" x="643.5" y="1121" text-anchor="middle">IV</text>
<text class="m" x="724.1" y="1121" text-anchor="middle">V</text>
<text class="m" x="797.25" y="1121" text-anchor="middle">VI</text>
<text class="m" x="878.4" y="1121" text-anchor="middle">VII</text>
<text class="m" x="952.5" y="1121" text-anchor="middle">VIII</text>
<text class="m" x="1033.4" y="1121" text-anchor="middle">IX</text>
<text class="m" x="1112.75" y="1121" text-anchor="middle">X</text>
<text class="m" x="1187" y="1121" text-anchor="middle">XI</text>
<text class="m" x="1267.75" y="1121" text-anchor="middle">XII</text>
<text class="m" x="1341.5" y="1121" text-anchor="middle">I</text>
<text class="m" x="1415.4" y="1121" text-anchor="middle">II</text>
<text class="m" x="1491.6" y="1121" text-anchor="middle">III</text>
<text class="m" x="1573.1" y="1121" text-anchor="middle">IV</text>
<text class="m" x="1653.1" y="1121" text-anchor="middle">V</text>
<text class="m" x="1726.9" y="1121" text-anchor="middle">VI</text>
<text class="m" x="1807.9" y="1121" text-anchor="middle">VII</text>
<text class="m" x="1882" y="1121" text-anchor="middle">VIII</text>
<text class="m" x="1963.1" y="1121" text-anchor="middle">IX</text>
<text class="m" x="2042.9" y="1121" text-anchor="middle">X</text>
<text class="m" x="2116.5" y="1121" text-anchor="middle">XI</text>
<text class="m" x="2197.8" y="1121" text-anchor="middle">XII</text>
<text class="m" x="385.3" y="1164.7">2025</text>
<text class="m" x="1315.3" y="1164.7">2026</text>
<text class="s" x="2224" y="1139.7">18-Dec-2025 06:47 WSFS-O</text>
<text class="s" x="2222.5" y="83.5">Simuloitu historia ja</text>
<text class="s" x="2222.5" y="118.2">keskiennuste</text>
<text class="s" x="2222.5" y="197.1">Ennusteen vaihteluväli</text>
<text class="s" x="2222.5" y="274">5-95% vaihteluväli</text>
<text class="s" x="2222.5" y="352.1">25-75% vaihteluväli</text>
<text class="s" x="2222.5" y="429.4">Ennusteen alku</text>
<g shape-rendering="crispEdges">
<rect x="2223" y="137" width="318" height="9.8" fill="#0000ff"/>
<rect x="2223" y="213.1" width="318" height="12.6" fill="#ffff00"/>
<rect x="2223" y="291" width="318" height="12.7" fill="#ff0000"/>
<rect x="2223" y="368.1" width="318" height="12.6" fill="#00ff00"/>
</g>
<path d="M2223,452.9H2541" fill="none" stroke="#00ffff" stroke-width="9.8" stroke-dasharray="15.1 13.2"/>
</svg>
</body></html>
